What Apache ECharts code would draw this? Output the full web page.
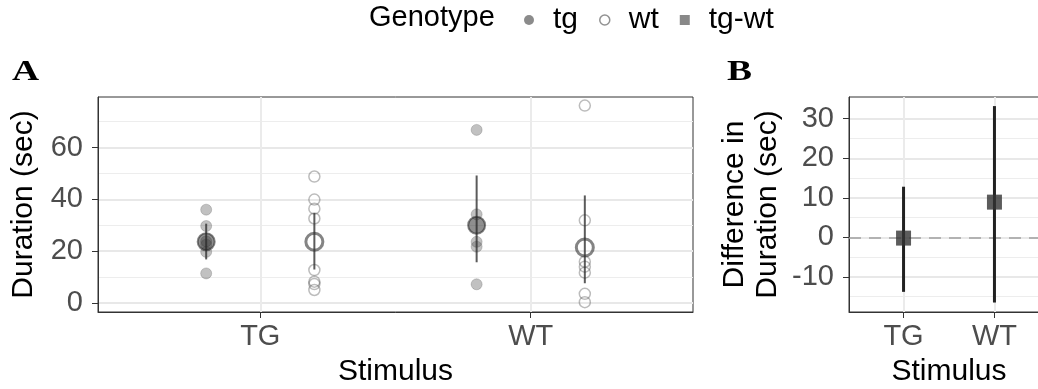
<!DOCTYPE html>
<html>
<head>
<meta charset="utf-8">
<script src="https://cdn.jsdelivr.net/npm/echarts@6/dist/echarts.min.js"></script>
<style>html,body{margin:0;padding:0;background:#fff}#c{width:1038px;height:389px}</style>
</head>
<body>
<div id="c"></div>
<script>
// ---- data ----
const stimuli = ['TG', 'WT'];
const genotypes = ['tg', 'wt', 'tg-wt'];
// individual durations (sec) per stimulus
const tgPointsTG = [36.0, 29.7, 23.8, 22.5, 19.7, 11.4];
const tgPointsWT = [66.8, 34.2, 23.6, 21.7, 7.2];
const wtPointsTG = [48.8, 39.9, 36.4, 32.6, 12.7, 8.2, 7.3, 5.0];
const wtPointsWT = [76.2, 31.9, 15.9, 14.0, 11.7, 3.5, 0.3];
// means and intervals per stimulus (TG, WT)
const tgMean = [23.6, 30.0];
const tgLow = [16.8, 15.7];
const tgHigh = [30.6, 49.2];
const wtMean = [23.6, 21.4];
const wtLow = [12.9, 7.6];
const wtHigh = [34.7, 41.5];
// panel B: difference tg - wt
const diffMean = [-0.2, 8.9];
const diffLow = [-13.8, -16.5];
const diffHigh = [12.8, 33.2];
// axis ticks
const ticksA = [0, 20, 40, 60];
const minorA = [10, 30, 50, 70];
const ticksB = [-10, 0, 10, 20, 30];
const minorB = [-15, -5, 5, 15, 25];

// ---- build ----
const dodge = 0.2;
const pos = i => i + 1;
function pts(arr, i, off) { return arr.map(v => [pos(i) + off, v]); }
const tgPts = [].concat(pts(tgPointsTG, 0, -dodge), pts(tgPointsWT, 1, -dodge));
const wtPts = [].concat(pts(wtPointsTG, 0, dodge), pts(wtPointsWT, 1, dodge));
const tgMeanPts = tgMean.map((v, i) => [pos(i) - dodge, v]);
const wtMeanPts = wtMean.map((v, i) => [pos(i) + dodge, v]);
const tgBars = tgMean.map((v, i) => [pos(i) - dodge, tgLow[i], tgHigh[i]]);
const wtBars = wtMean.map((v, i) => [pos(i) + dodge, wtLow[i], wtHigh[i]]);
const diffPts = diffMean.map((v, i) => [pos(i), v]);
const diffBars = diffMean.map((v, i) => [pos(i), diffLow[i], diffHigh[i]]);

const FONT = 'Liberation Sans';
const FS = 29;
const TFS = 30;

function barRenderer(color, width) {
  return function (params, api) {
    const a = api.coord([api.value(0), api.value(1)]);
    const b = api.coord([api.value(0), api.value(2)]);
    return { type: 'line', shape: { x1: a[0], y1: a[1], x2: b[0], y2: b[1] },
      style: { stroke: color, lineWidth: width } };
  };
}

function xAxisDef(gi) {
  return {
    type: 'value', gridIndex: gi, min: 0.4, max: 2.6,
    name: 'Stimulus', nameLocation: 'middle', nameGap: 45,
    nameTextStyle: { color: '#000', fontSize: TFS, fontFamily: FONT },
    axisLine: { show: true, onZero: false, lineStyle: { color: '#333', width: 1 } },
    axisTick: { show: true, length: 6, customValues: [1, 2], lineStyle: { color: '#333' } },
    axisLabel: { customValues: [1, 2], formatter: v => stimuli[Math.round(v) - 1], color: '#4d4d4d', fontSize: FS, fontFamily: FONT, margin: 10 },
    splitLine: { show: true, lineStyle: { color: '#ebebeb', width: 2 } }
  };
}
function yAxisMajor(gi, min, max, ticks, name, gap) {
  return {
    type: 'value', gridIndex: gi, min: min, max: max,
    name: name, nameLocation: 'middle', nameGap: gap, nameRotate: 90,
    nameTextStyle: { color: '#000', fontSize: TFS, fontFamily: FONT, lineHeight: 33 },
    axisLine: { show: true, onZero: false, lineStyle: { color: '#333', width: 1 } },
    axisTick: { show: true, length: 6, customValues: ticks, lineStyle: { color: '#333' } },
    axisLabel: { customValues: ticks, color: '#4d4d4d', fontSize: FS, fontFamily: FONT, margin: 15 },
    splitLine: { show: true, lineStyle: { color: '#e8e8e8', width: 1.8 } }
  };
}
function yAxisMinor(gi, min, max, ticks) {
  return {
    type: 'value', gridIndex: gi, min: min, max: max, position: 'left',
    axisLine: { show: false }, axisLabel: { show: false },
    axisTick: { show: false, customValues: ticks },
    splitLine: { show: true, lineStyle: { color: '#ededed', width: 1.2 } }
  };
}

const chart = echarts.init(document.getElementById('c'), null, { renderer: 'canvas' });
chart.setOption({
  animation: false,
  backgroundColor: '#fff',
  textStyle: { fontFamily: FONT },
  graphic: [
    { type: 'text', left: 369, top: 3, style: { text: 'Genotype', fontSize: FS, fontFamily: FONT, fill: '#000' } },
    { type: 'text', left: 12, top: 57, scaleX: 1.25, style: { text: 'A', fontSize: 30, fontWeight: 'bold', fontFamily: 'Liberation Serif', fill: '#000' } },
    { type: 'text', left: 727, top: 57, scaleX: 1.25, style: { text: 'B', fontSize: 30, fontWeight: 'bold', fontFamily: 'Liberation Serif', fill: '#000' } }
  ],
  legend: {
    left: 519, top: 0, itemWidth: 10, itemHeight: 10, itemGap: 21,
    selectedMode: false,
    textStyle: { fontSize: 30, fontFamily: FONT, color: '#000', padding: [0, 0, 0, 14] },
    data: [
      { name: 'tg', icon: 'circle', itemStyle: { color: '#6e6e6e', borderWidth: 0 } },
      { name: 'wt', icon: 'circle', itemStyle: { color: '#fff', borderColor: '#777', borderWidth: 1.5 } },
      { name: 'tg-wt', icon: 'rect', itemStyle: { color: '#888', borderWidth: 0 } }
    ]
  },
  grid: [
    { left: 98, top: 97, width: 595, height: 215, outerBoundsMode: 'none', show: true, borderColor: '#333', borderWidth: 1, backgroundColor: 'transparent' },
    { left: 849, top: 97, width: 200, height: 215, outerBoundsMode: 'none', show: true, borderColor: '#333', borderWidth: 1, backgroundColor: 'transparent' }
  ],
  xAxis: [xAxisDef(0), xAxisDef(1)],
  yAxis: [
    yAxisMajor(0, -3.5, 79.5, ticksA, 'Duration (sec)', 57),
    yAxisMinor(0, -3.5, 79.5, minorA),
    yAxisMajor(1, -18.9, 35.5, ticksB, 'Difference in\nDuration (sec)', 65),
    yAxisMinor(1, -18.9, 35.5, minorB)
  ],
  series: [
    { name: 'tg', type: 'scatter', xAxisIndex: 0, yAxisIndex: 0, data: tgPts, symbolSize: 11, z: 3,
      itemStyle: { color: 'rgba(70,70,70,0.42)', borderColor: 'rgba(70,70,70,0.3)', borderWidth: 1 } },
    { name: 'wt', type: 'scatter', xAxisIndex: 0, yAxisIndex: 0, data: wtPts, symbolSize: 11, z: 3,
      itemStyle: { color: 'rgba(255,255,255,0)', borderColor: 'rgba(70,70,70,0.45)', borderWidth: 1.5 } },
    { name: 'tg', type: 'custom', xAxisIndex: 0, yAxisIndex: 0, data: tgBars, z: 4,
      renderItem: barRenderer('rgba(50,50,50,0.8)', 2) },
    { name: 'wt', type: 'custom', xAxisIndex: 0, yAxisIndex: 0, data: wtBars, z: 4,
      renderItem: barRenderer('rgba(50,50,50,0.8)', 2) },
    { name: 'tg', type: 'scatter', xAxisIndex: 0, yAxisIndex: 0, data: tgMeanPts, symbolSize: 17, z: 5,
      itemStyle: { color: 'rgba(40,40,40,0.65)', borderColor: 'rgba(40,40,40,0.7)', borderWidth: 2 } },
    { name: 'wt', type: 'scatter', xAxisIndex: 0, yAxisIndex: 0, data: wtMeanPts, symbolSize: 17, z: 5,
      itemStyle: { color: 'rgba(255,255,255,0)', borderColor: 'rgba(50,50,50,0.75)', borderWidth: 3 } },
    { name: 'tg-wt', type: 'custom', xAxisIndex: 1, yAxisIndex: 2, data: diffBars, z: 4,
      renderItem: barRenderer('#222', 3),
      markLine: { silent: true, symbol: 'none', label: { show: false }, z: 2,
        lineStyle: { color: '#a0a0a0', type: [12, 8], width: 1.5 }, data: [{ yAxis: 0 }] } },
    { name: 'tg-wt', type: 'scatter', xAxisIndex: 1, yAxisIndex: 2, data: diffPts, symbol: 'rect', symbolSize: 15, z: 5,
      itemStyle: { color: '#333' } }
  ]
});
</script>
</body>
</html>
